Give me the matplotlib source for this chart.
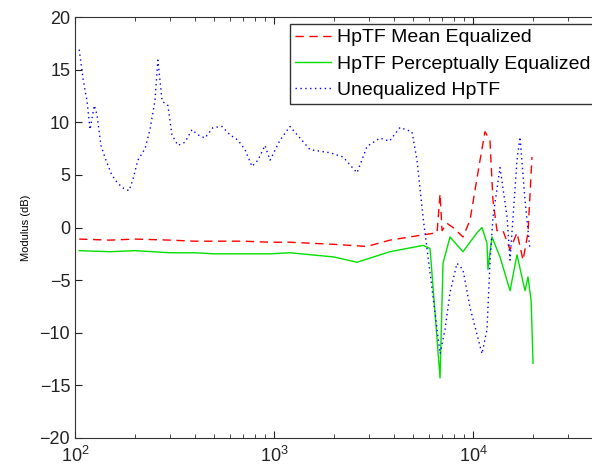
import matplotlib
matplotlib.use("Agg")
import matplotlib.pyplot as plt
import numpy as np

plt.rcParams['font.family'] = ['Liberation Sans', 'DejaVu Sans']

# Unequalized HpTF (blue dotted)
f_uneq = [105, 110, 115, 119, 125, 129, 135, 143, 153, 164, 176, 187, 195, 207, 225,
          238, 252, 261, 274, 293, 307, 329, 357, 387, 415, 450, 494, 548, 601, 659,
          715, 775, 831, 901, 955, 1072, 1203, 1517, 1912, 2222, 2613, 2933, 3410,
          3800, 4296, 4934, 5231, 5609, 6300, 6830, 7233, 7663, 8310, 8905, 9660, 11098,
          11757, 12166, 12600, 13670, 14830, 15350, 16640, 17230, 18250, 19330]
db_uneq = [16.9, 14.0, 12.0, 9.3, 11.6, 10.7, 7.8, 6.4, 5.0, 4.2, 3.7, 3.5, 4.5, 6.4, 7.5,
           9.3, 12.0, 15.9, 12.0, 11.6, 8.8, 7.8, 8.1, 9.3, 8.8, 8.5, 9.5, 9.6, 8.8, 8.3,
           7.4, 5.8, 6.4, 7.8, 6.4, 8.3, 9.6, 7.4, 7.1, 6.7, 5.2, 7.7, 8.5,
           8.2, 9.5, 9.1, 6.4, 1.0, -6.6, -12.0, -9.7, -6.2, -3.4, -4.0, -7.6, -12.0,
           -9.7, -3.4, 1.0, 5.7, 1.0, -3.1, 6.4, 8.6, 2.6, -2.1]

# HpTF Mean Equalized (red dashed)
f_mean = [105, 150, 200, 300, 400, 500, 700, 955, 1203, 2000, 2933, 3828, 5609, 6597,
          6830, 6990, 7401, 7935, 8905, 9660, 10848, 11488, 12166, 12600, 13200, 14150,
          15350, 16640, 17840, 18900, 19780]
db_mean = [-1.1, -1.2, -1.1, -1.2, -1.3, -1.3, -1.3, -1.4, -1.4, -1.6, -1.8, -1.2, -0.7, -0.5,
           3.2, -0.3, 0.4, 0.0, -0.9, 0.7, 6.4, 9.1, 8.3, 2.6, -0.3, -0.3,
           -2.1, -0.5, -3.1, -0.5, 6.7]

# HpTF Perceptually Equalized (green solid)
f_perc = [105, 150, 200, 300, 400, 500, 700, 955, 1203, 2000, 2613, 3828, 5609, 6084,
          6830, 7068, 7663, 8905, 10475, 11098, 11757, 11889, 12449, 13670, 15350,
          16640, 18250, 18900, 19600, 20030]
db_perc = [-2.2, -2.3, -2.2, -2.4, -2.4, -2.5, -2.5, -2.5, -2.4, -2.8, -3.3, -2.3, -1.7, -2.0,
           -14.3, -3.4, -0.9, -2.3, -0.5, 0.0, -1.5, -4.0, -0.9, -2.8, -6.0,
           -2.6, -6.0, -4.7, -7.0, -12.9]

x_ticks = [1e2, 1e3, 1e4]
y_ticks = [-20, -15, -10, -5, 0, 5, 10, 15, 20]

W, H = 592, 467
fig = plt.figure(figsize=(W / 100, H / 100), dpi=100)
left, right, top, bottom = 75, 672, 17, 438
ax = fig.add_axes([left / W, 1 - bottom / H, (right - left) / W, (bottom - top) / H])

ax.semilogx(f_mean, db_mean, color='#ff0000', ls=(0, (6, 4)), lw=1.0, label='HpTF Mean Equalized')
ax.semilogx(f_perc, db_perc, color='#00e000', ls='-', lw=1.0, label='HpTF Perceptually Equalized')
ax.semilogx(f_uneq, db_uneq, color='#0000ff', ls=(0, (1, 2.5)), lw=1.0, label='Unequalized HpTF')

ax.set_xlim(1e2, 1e5)
ax.set_ylim(-20, 20)
ax.set_xticks(x_ticks)
ax.set_yticks(y_ticks)
ax.tick_params(which='both', direction='in', top=True, right=True, labelsize=13, colors='#222222')
ax.tick_params(axis='x', which='major', pad=6)
ax.tick_params(which='major', length=5)
ax.tick_params(which='minor', length=3)
for s in ax.spines.values():
    s.set_color('#333333')
ax.set_ylabel('Modulus (dB)', fontsize=8, labelpad=6)

leg = ax.legend(loc='upper left', bbox_to_anchor=(290 / W, 1 - 24 / H), bbox_transform=fig.transFigure,
                fontsize=14, frameon=True, fancybox=False, edgecolor='black', borderaxespad=0,
                handlelength=1.85, handletextpad=0.3, labelspacing=0.45, borderpad=0.25)
leg.get_frame().set_linewidth(1.0)

fig.savefig('out.png', dpi=100)
